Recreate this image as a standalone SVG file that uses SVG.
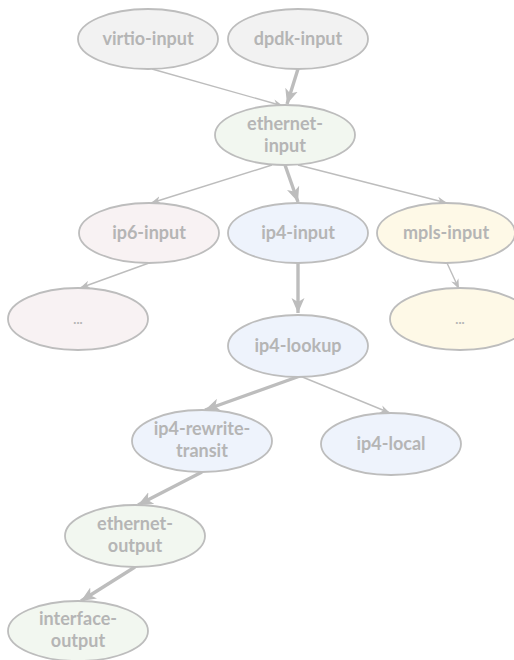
<svg xmlns="http://www.w3.org/2000/svg" width="514" height="660" viewBox="0 0 514 660">
<style>
.n ellipse{stroke:#bdbdbd;stroke-width:1.8}
.n text{font-family:Lato,"Liberation Sans",sans-serif;font-weight:bold;font-size:18px;fill:#b5b5b5;text-anchor:middle}
.grey{fill:#f2f2f2}.green{fill:#f2f7f0}.pink{fill:#f8f2f3}.blue{fill:#eef3fc}.yellow{fill:#fef9e7}
.e{stroke:#bdbdbd;fill:none}
.thin{stroke-width:1.4;marker-end:url(#a1)}
.thick{stroke-width:3.4;marker-end:url(#a2)}
</style>
<defs>
<marker id="a1" markerUnits="userSpaceOnUse" markerWidth="12" markerHeight="10" refX="10" refY="4" orient="auto" viewBox="0 0 12 8">
<path d="M0,0 L10,4 L0,8 L3,4 Z" fill="#bdbdbd"/>
</marker>
<marker id="a2" markerUnits="userSpaceOnUse" markerWidth="16" markerHeight="14" refX="15" refY="6.5" orient="auto" viewBox="0 0 16 13">
<path d="M0,0 L15,6.5 L0,13 L4,6.5 Z" fill="#bdbdbd"/>
</marker>
</defs>
<g id="edges">
<line class="e thin" x1="152" y1="69" x2="283" y2="106"/>
<line class="e thick" x1="298" y1="69" x2="287" y2="104"/>
<line class="e thin" x1="272" y1="165" x2="151" y2="203"/>
<line class="e thick" x1="285" y1="165" x2="298" y2="202"/>
<line class="e thin" x1="298" y1="165" x2="447" y2="203"/>
<line class="e thin" x1="149" y1="263" x2="80" y2="288"/>
<line class="e thick" x1="298" y1="263" x2="298" y2="313"/>
<line class="e thin" x1="447" y1="263" x2="459" y2="289"/>
<line class="e thick" x1="300" y1="376" x2="205" y2="410"/>
<line class="e thin" x1="300" y1="376" x2="390" y2="413"/>
<line class="e thick" x1="202" y1="472" x2="138" y2="505"/>
<line class="e thick" x1="135" y1="567" x2="81" y2="601"/>
</g>
<g id="virtio-input" class="n"><ellipse class="grey" cx="148" cy="39" rx="70" ry="30"/><text x="148" y="45">virtio-input</text></g>
<g id="dpdk-input" class="n"><ellipse class="grey" cx="298" cy="39" rx="70" ry="30"/><text x="298" y="45">dpdk-input</text></g>
<g id="ethernet-input" class="n"><ellipse class="green" cx="285" cy="135" rx="70" ry="30"/><text x="285" y="130">ethernet-</text><text x="285" y="152">input</text></g>
<g id="ip6-input" class="n"><ellipse class="pink" cx="149" cy="233" rx="70" ry="30"/><text x="149" y="239">ip6-input</text></g>
<g id="ip4-input" class="n"><ellipse class="blue" cx="298" cy="233" rx="70" ry="30"/><text x="298" y="239">ip4-input</text></g>
<g id="mpls-input" class="n"><ellipse class="yellow" cx="446" cy="233" rx="69" ry="30"/><text x="446" y="239">mpls-input</text></g>
<g id="ip6-more" class="n"><ellipse class="pink" cx="78" cy="319" rx="70" ry="31"/><text x="78" y="324" style="font-size:13px">...</text></g>
<g id="mpls-more" class="n"><ellipse class="yellow" cx="460" cy="319" rx="70" ry="31"/><text x="460" y="324" style="font-size:13px">...</text></g>
<g id="ip4-lookup" class="n"><ellipse class="blue" cx="298" cy="346" rx="70" ry="31"/><text x="298" y="352">ip4-lookup</text></g>
<g id="ip4-rewrite-transit" class="n"><ellipse class="blue" cx="202" cy="441" rx="70" ry="31"/><text x="202" y="435">ip4-rewrite-</text><text x="202" y="457">transit</text></g>
<g id="ip4-local" class="n"><ellipse class="blue" cx="391" cy="444" rx="70" ry="31"/><text x="391" y="450">ip4-local</text></g>
<g id="ethernet-output" class="n"><ellipse class="green" cx="135" cy="536" rx="70" ry="31"/><text x="135" y="530">ethernet-</text><text x="135" y="552">output</text></g>
<g id="interface-output" class="n"><ellipse class="green" cx="78" cy="631" rx="70" ry="30"/><text x="78" y="625">interface-</text><text x="78" y="647">output</text></g>
</svg>
